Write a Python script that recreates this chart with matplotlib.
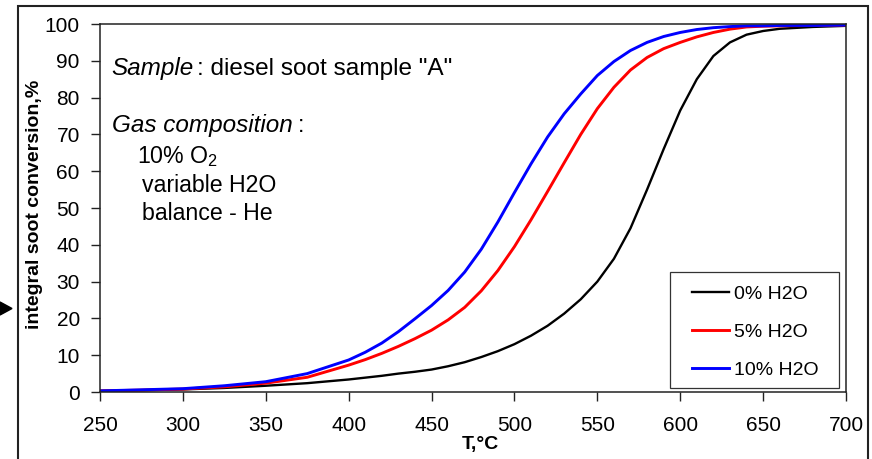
import numpy as np
import matplotlib
matplotlib.use("Agg")
import matplotlib.pyplot as plt
from matplotlib.patches import Rectangle, Polygon

plt.rcParams['font.family'] = ['Liberation Sans', 'DejaVu Sans']

# temperature, degC
temp = [250, 275, 300, 325, 350, 375, 400, 410, 420, 430, 440, 450, 460, 470, 480, 490,
        500, 510, 520, 530, 540, 550, 560, 570, 580, 590, 600, 610, 620, 630, 640, 650,
        660, 680, 700]

# integral soot conversion, %
conv_0 = [0.3, 0.5, 0.7, 1.1, 1.7, 2.4, 3.4, 3.9, 4.4, 5.0, 5.5, 6.1, 7.0, 8.1, 9.5, 11.1,
          13.0, 15.3, 18.0, 21.3, 25.2, 30.0, 36.2, 44.5, 55.0, 66.0, 76.5, 85.0, 91.3,
          95.0, 97.1, 98.1, 98.7, 99.2, 99.5]
conv_5 = [0.3, 0.5, 0.8, 1.4, 2.4, 4.0, 7.3, 8.8, 10.5, 12.4, 14.5, 16.8, 19.6, 23.0, 27.5,
          33.0, 39.5, 46.8, 54.5, 62.3, 70.0, 77.0, 82.8, 87.5, 90.9, 93.3, 95.0, 96.5,
          97.7, 98.6, 99.2, 99.4, 99.5, 99.6, 99.7]
conv_10 = [0.3, 0.6, 0.9, 1.7, 2.8, 5.0, 8.7, 10.8, 13.3, 16.4, 19.9, 23.5, 27.6, 32.6,
           38.8, 46.2, 54.2, 62.0, 69.3, 75.6, 81.0, 86.0, 89.8, 92.8, 95.0, 96.6, 97.7,
           98.5, 99.0, 99.3, 99.5, 99.5, 99.6, 99.6, 99.7]

labels = ["0% H2O", "5% H2O", "10% H2O"]
colors = ["black", "#ff0000", "#0000ff"]
widths = [1.7, 2.1, 2.1]

fig = plt.figure(figsize=(8.72, 4.59), dpi=100)
ax = fig.add_axes([100 / 872, 1 - 392 / 459, 746 / 872, 368 / 459])

handles = []
for ys, c, lw, lab in zip([conv_0, conv_5, conv_10], colors, widths, labels):
    h, = ax.plot(temp, ys, color=c, lw=lw, label=lab)
    handles.append(h)

ax.set_xlim(250, 700)
ax.set_ylim(0, 100)
ax.set_xticks(np.arange(250, 701, 50))
ax.set_yticks(np.arange(0, 101, 10))
ax.tick_params(direction='out', length=6.5, width=1, labelsize=15, color='#222222')
ax.tick_params(axis='x', pad=11)
ax.tick_params(axis='y', pad=8)
for s in ax.spines.values():
    s.set_linewidth(1.1)
    s.set_color('#222222')

ax.set_xlabel("T,°C", fontsize=14, fontweight='bold', va='center')
ax.xaxis.set_label_coords(0.51, -0.144)
ax.set_ylabel("integral soot conversion,%", fontsize=14, fontweight='bold')
ax.yaxis.set_label_coords(-0.076, 0.51)

# annotation text
rfs = 16.7
ifs = 17.5
t1 = ax.text(0.0157, 0.878, "Sample", style='italic', fontsize=ifs, va='center',
             transform=ax.transAxes)
ax.annotate(': diesel soot sample "A"', xy=(1, 0.5), xycoords=t1, xytext=(2, 0),
            textcoords='offset points', fontsize=17.6, va='center')
t2 = ax.text(0.0157, 0.7255, "Gas composition", style='italic', fontsize=ifs,
             va='center', transform=ax.transAxes)
ax.annotate(':', xy=(1, 0.5), xycoords=t2, xytext=(4, 0),
            textcoords='offset points', fontsize=rfs, va='center')
ax.text(0.049, 0.639, r"10% O$_\mathregular{2}$", fontsize=rfs, va='center',
        transform=ax.transAxes)
ax.text(0.056, 0.5625, "variable H2O", fontsize=rfs, va='center', transform=ax.transAxes)
ax.text(0.056, 0.486, "balance - He", fontsize=rfs, va='center', transform=ax.transAxes)

# legend
leg = ax.legend(handles=handles, loc='upper left', bbox_to_anchor=(0.7936, 0.29),
                frameon=False, fontsize=14, handlelength=1.9, handletextpad=0.25,
                labelspacing=1.04, borderpad=0, borderaxespad=0)
ax.add_patch(Rectangle((0.764, 0.0109), 0.2265, 0.315, transform=ax.transAxes,
                       fill=False, edgecolor='#333333', lw=0.9, zorder=5))

# outer frame and marker arrow
fig.patches.append(Rectangle((18 / 872, -0.1), 850 / 872, 1.1 - 6 / 459,
                             transform=fig.transFigure, fill=False,
                             edgecolor='#222222', lw=1.5))
fig.patches.append(Polygon([(0, 1 - 302 / 459), (12 / 872, 1 - 308.5 / 459),
                            (0, 1 - 315 / 459)], closed=True,
                           transform=fig.transFigure, color='black'))

fig.savefig("out.png", dpi=100)
